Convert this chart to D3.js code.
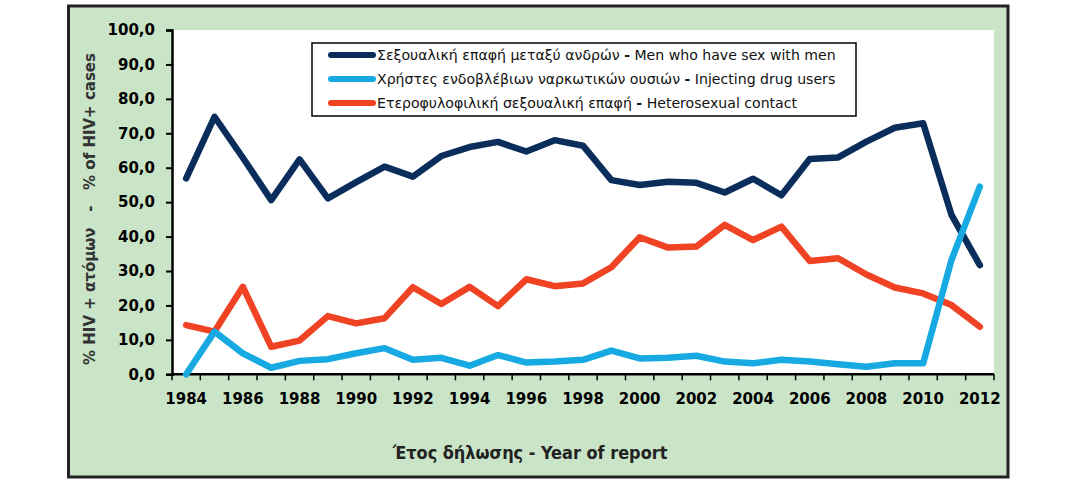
<!DOCTYPE html>
<html><head><meta charset="utf-8">
<script src="https://cdnjs.cloudflare.com/ajax/libs/d3/7.8.5/d3.min.js"></script>
<style>body{margin:0;background:#fff}svg{display:block}</style>
</head><body>
<svg id="c" width="1087" height="485"></svg>
<script>
const years = d3.range(1984, 2013);
const msm = [56.9,74.8,62.9,50.6,62.4,51.1,55.8,60.3,57.4,63.4,66.0,67.5,64.7,68.0,66.4,56.4,55.0,55.9,55.6,52.8,56.8,52.0,62.5,63.0,67.6,71.6,72.9,46.3,31.7];
const idu = [0.0,12.4,6.1,1.9,3.9,4.4,6.1,7.6,4.2,4.8,2.5,5.6,3.4,3.7,4.2,6.9,4.6,4.8,5.4,3.7,3.2,4.2,3.7,2.9,2.2,3.2,3.2,33.2,54.5];
const het = [14.3,12.4,25.4,8.0,9.8,16.9,14.8,16.3,25.3,20.4,25.4,19.8,27.6,25.6,26.4,31.1,39.8,36.8,37.1,43.4,39.0,42.9,32.9,33.7,29.0,25.2,23.5,20.1,13.8];
const seriesNames = [
  ["Σεξουαλική επαφή μεταξύ ανδρών", "Men who have sex with men"],
  ["Χρήστες ενδοβλέβιων ναρκωτικών ουσιών", "Injecting drug users"],
  ["Ετεροφυλοφιλική σεξουαλική επαφή", "Heterosexual contact"]
];
const colors = ["#0a2d5c", "#17aae2", "#ef4323"];
const yTicks = d3.range(0, 101, 10);
const xLabelYears = d3.range(1984, 2013, 2);
const yTitle = "% HIV + ατόμων   -   % of HIV+ cases";
const xTitle = "Έτος δήλωσης - Year of report";

const svg = d3.select("#c");
// frame
svg.append("rect").attr("x",68.5).attr("y",6).attr("width",939.5).attr("height",471)
  .attr("fill","#c9e4c6").attr("stroke","#222").attr("stroke-width",3);

const L=172, R=994, T=30, B=374.3;
svg.append("rect").attr("x",L).attr("y",T).attr("width",R-L).attr("height",B-T).attr("fill","#fff");

const x = d3.scaleBand().domain(years).range([L,R]);
const y = d3.scaleLinear().domain([0,100]).range([B,T]);
const cx = d => x(d) + x.bandwidth()/2;

// Y axis
const ya = svg.append("g").attr("transform",`translate(${L},0)`)
  .call(d3.axisLeft(y).tickValues(yTicks).tickSize(6).tickPadding(11).tickFormat(d=>d3.format(".1f")(d).replace(".",",")));
ya.select(".domain").attr("stroke","#000").attr("stroke-width",2.5);
ya.selectAll(".tick line").attr("stroke","#000").attr("stroke-width",2);
ya.selectAll("text").attr("font-family","DejaVu Sans, Verdana, sans-serif").attr("font-weight","bold").attr("font-size","15px").attr("fill","#000");

// X axis: tick marks at category boundaries
const xa = svg.append("g").attr("transform",`translate(0,${B})`);
xa.append("line").attr("x1",L).attr("x2",R).attr("y1",0).attr("y2",0).attr("stroke","#000").attr("stroke-width",2.5);
const bounds = years.map(d=>x(d)).concat([R]);
xa.selectAll("line.tk").data(bounds).join("line").attr("class","tk")
  .attr("x1",d=>d).attr("x2",d=>d).attr("y1",0).attr("y2",6).attr("stroke","#000").attr("stroke-width",1.5);
xa.selectAll("text").data(xLabelYears).join("text")
  .attr("x",d=>cx(d)).attr("y",30).attr("text-anchor","middle")
  .attr("font-family","DejaVu Sans, Verdana, sans-serif")
  .attr("font-weight","bold").attr("font-size","15px").attr("fill","#000").text(d=>d);

// titles
svg.append("text").attr("transform","translate(95,209) rotate(-90)").attr("text-anchor","middle")
  .attr("font-family","DejaVu Sans, Verdana, sans-serif").attr("font-weight","bold").attr("font-size","15px")
  .attr("fill","#333").attr("xml:space","preserve").style("white-space","pre").text(yTitle);
const xt = svg.append("text").attr("x",530).attr("y",459).attr("text-anchor","middle")
  .attr("font-family","DejaVu Sans Condensed, DejaVu Sans, sans-serif").attr("font-stretch","condensed")
  .attr("font-weight","bold").attr("font-size","16px").attr("fill","#222").text(xTitle);
const xtw = xt.node().getComputedTextLength();
xt.attr("font-size", (16*275/xtw)+"px");

// lines
const line = d3.line().x((d,i)=>cx(years[i])).y(d=>y(d));
const data = [msm, idu, het];
[0,2,1].forEach(k=>{
  svg.append("path").attr("d",line(data[k])).attr("fill","none").attr("stroke",colors[k])
    .attr("stroke-width",6.5).attr("stroke-linejoin","round").attr("stroke-linecap","round");
});

// legend
const lg = svg.append("g");
lg.append("rect").attr("x",312).attr("y",43).attr("width",544).attr("height",73).attr("fill","#fff").attr("stroke","#000").attr("stroke-width",1.5);
const ly = [55, 79, 103];
seriesNames.forEach((n,i)=>{
  lg.append("line").attr("x1",331).attr("x2",373).attr("y1",ly[i]).attr("y2",ly[i]).attr("stroke",colors[i]).attr("stroke-width",6).attr("stroke-linecap","round");
  const t = lg.append("text").attr("x",377).attr("y",ly[i]+5).attr("font-family","DejaVu Sans, Verdana, sans-serif").attr("font-size","14px").attr("fill","#111").attr("class","lt");
  t.append("tspan").text(n[0]+" ");
  t.append("tspan").attr("font-weight","bold").text("-");
  t.append("tspan").text(" "+n[1]);
});
// fit legend font to reference width
const first = lg.select("text.lt").node();
const w = first.getComputedTextLength();
const fs = 14*459/w;
lg.selectAll("text.lt").attr("font-size", fs+"px");
</script>
</body></html>
